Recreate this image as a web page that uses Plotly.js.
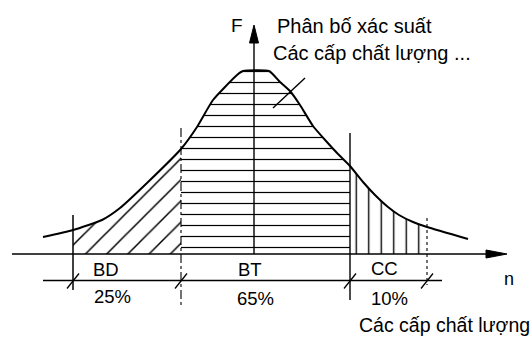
<!DOCTYPE html>
<html>
<head>
<meta charset="utf-8">
<script src="https://cdn.plot.ly/plotly-3.0.1.min.js"></script>
<style>html,body{margin:0;padding:0;background:#fff;}#chart{width:530px;height:337px;}</style>
</head>
<body>
<div id="chart"></div>
<script>
// Bell-shaped distribution (F vs n), coordinates relative to the axis origin
const curveX = [-211, -181, -152, -134, -107, -73, -57, -41, -17, -11, 15, 26, 36, 46, 59, 72, 84, 96, 109, 121, 134, 145, 159, 173, 214];
const curveY = [17, 24, 34, 46, 71, 105, 127, 154, 179, 183, 183, 172, 163, 149, 128, 113, 100, 88, 72, 59, 47, 39, 32, 27, 15];
// Quality class boundaries along n
const boundaries = [-181, -73, 96, 173];
const classNames = ["BD", "BT", "CC"];
const classShares = ["25%", "65%", "10%"];
const patterns = ["/", "-", "|"];

const FONT = "'Liberation Sans', Arial, sans-serif";
const traces = [];
for (let i = 0; i < 3; i++) {
  const xs = [], ys = [];
  curveX.forEach((x, k) => { if (x >= boundaries[i] && x <= boundaries[i + 1]) { xs.push(x); ys.push(curveY[k]); } });
  const size = [15, 11, 12.5][i];
  traces.push({
    x: xs, y: ys, type: 'scatter', mode: 'lines', fill: 'tozeroy',
    line: {width: 0, shape: 'spline', smoothing: 0.5, color: 'rgba(0,0,0,0)'},
    fillcolor: 'white',
    fillpattern: {shape: patterns[i], size: size, solidity: i === 0 ? 0.1 : 0.11, fgcolor: 'black', bgcolor: 'white', fillmode: 'replace'},
    hoverinfo: 'skip'
  });
}
traces.push({
  x: curveX, y: curveY, type: 'scatter', mode: 'lines',
  line: {color: 'black', width: 2, shape: 'spline', smoothing: 0.5}, hoverinfo: 'skip'
});

const axisEndX = 253, axisStartX = -242, axisTopY = 229, dimY = -26.5;
const shapes = [];
const ln = (x0, y0, x1, y1, w, dash) => shapes.push({type: 'line', xref: 'x', yref: 'y', x0, y0, x1, y1, line: {color: 'black', width: w, dash: dash || 'solid'}});
// x axis and y axis
ln(axisStartX, 0, axisEndX - 16, 0, 1.6);
ln(0, 0, 0, axisTopY - 14, 1.4);
shapes.push({type: 'path', xref: 'x', yref: 'y', path: `M${axisEndX},0 L${axisEndX - 21},4 L${axisEndX - 21},-4 Z`, fillcolor: 'black', line: {color: 'black', width: 1}});
shapes.push({type: 'path', xref: 'x', yref: 'y', path: `M0,${axisTopY} L-4.5,${axisTopY - 18} L4.5,${axisTopY - 18} Z`, fillcolor: 'black', line: {color: 'black', width: 1}});
// boundary verticals
ln(boundaries[0], 39, boundaries[0], -36, 1.5);
ln(boundaries[1], 126, boundaries[1], -51, 1.1, 'dashdot');
ln(boundaries[2], 121, boundaries[2], -46, 1.4);
ln(boundaries[3], 36, boundaries[3], -31, 1.1, 'dot');
// dimension line with tick slashes
ln(-211, dimY, 188, dimY, 1.4);
boundaries.forEach(b => ln(b - 6, dimY - 8, b + 6, dimY + 7, 1.3));
// leader line
ln(51, 176, 19, 146, 1.4);

const annotations = [];
const txt = (x, y, text, size, xanchor) => annotations.push({x, y, xref: 'x', yref: 'y', text, showarrow: false, xanchor: xanchor || 'center', yanchor: 'middle', borderpad: 0, font: {family: FONT, size, color: 'black'}});
txt(-17, 229, 'F', 19);
txt(22, 228, 'Phân bố xác suất', 20, 'left');
txt(18, 201, 'Các cấp chất lượng ...', 20, 'left');
const labelPos = [[-148.5, -142], [-4.5, 1], [130.5, 135.5]];
const nameY = [-15.5, -15.5, -14.5], shareY = [-42.5, -44.5, -44.5];
for (let i = 0; i < 3; i++) {
  txt(labelPos[i][0], nameY[i], classNames[i], 18.5);
  txt(labelPos[i][1], shareY[i], classShares[i], 18.5);
}
txt(254.5, -24.7, 'n', 18);
txt(104, -71, 'Các cấp chất lượng', 19.5, 'left');

const layout = {
  width: 530, height: 337, margin: {l: 0, r: 0, t: 0, b: 0},
  paper_bgcolor: 'white', plot_bgcolor: 'white', showlegend: false,
  xaxis: {range: [-254, 276], visible: false, fixedrange: true},
  yaxis: {range: [-83, 254], visible: false, fixedrange: true},
  shapes, annotations
};
Plotly.newPlot('chart', traces, layout, {staticPlot: true, displayModeBar: false});
</script>
</body>
</html>
